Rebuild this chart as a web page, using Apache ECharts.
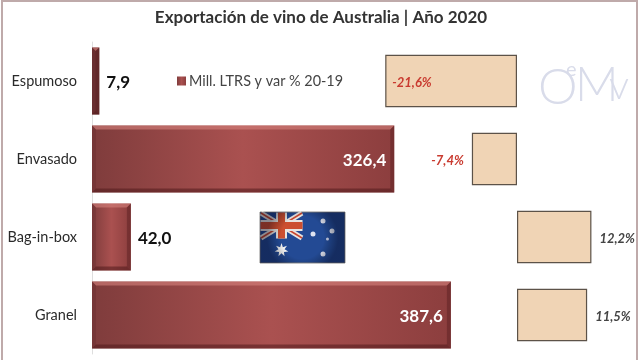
<!DOCTYPE html>
<html>
<head>
<meta charset="utf-8">
<style>
html, body { margin: 0; padding: 0; background: #fff; }
#chart { width: 640px; height: 360px; }
</style>
<script src="https://cdn.jsdelivr.net/npm/echarts@6/dist/echarts.min.js"></script>
</head>
<body>
<div id="chart"></div>
<script>
const titleText = 'Exportación de vino de Australia | Año 2020';
const seriesName = 'Mill. LTRS y var % 20-19';
const categories = ['Espumoso', 'Envasado', 'Bag-in-box', 'Granel'];
const volumes = [7.9, 326.4, 42.0, 387.6];
const variations = [-21.6, -7.4, 12.2, 11.5];

const font = 'Lato, "Open Sans", sans-serif';
const comma = v => v.toFixed(1).replace('.', ',');

const chart = echarts.init(document.getElementById('chart'));

// puntos de la estrella de la bandera
function star(cx, cy, r, n) {
    const pts = [];
    for (let i = 0; i < n * 2; i++) {
        const a = -Math.PI / 2 + i * Math.PI / n;
        const rr = i % 2 ? r * 0.45 : r;
        pts.push([cx + rr * Math.cos(a), cy + rr * Math.sin(a)]);
    }
    return pts;
}

// biselado de las barras, encima de la barra normal
function renderBevel(params, api) {
    const start = api.coord([0, api.value(1)]);
    const end = api.coord([api.value(0), api.value(1)]);
    const h = api.size([0, 1])[1] * 0.86;
    const x0 = start[0], x1 = end[0];
    const y0 = start[1] - h / 2, y1 = start[1] + h / 2;
    const b = Math.min(4, (x1 - x0) / 2);
    const face = (points, fill) => ({ type: 'polygon', shape: { points }, style: { fill } });
    return {
        type: 'group',
        children: [
            face([[x0, y0], [x1, y0], [x1 - b, y0 + b], [x0 + b, y0 + b]], 'rgba(214,130,125,0.6)'),
            face([[x0, y1], [x1, y1], [x1 - b, y1 - b], [x0 + b, y1 - b]], 'rgba(80,25,28,0.55)'),
            face([[x0, y0], [x0 + b, y0 + b], [x0 + b, y1 - b], [x0, y1]], 'rgba(90,35,38,0.25)'),
            face([[x1, y0], [x1 - b, y0 + b], [x1 - b, y1 - b], [x1, y1]], 'rgba(80,25,28,0.4)')
        ]
    };
}

const flag = [
    { type: 'rect', shape: { x: 260, y: 212, width: 85, height: 51 }, style: { fill: '#234a94', stroke: '#888', lineWidth: 1 } },
    { type: 'line', shape: { x1: 261, y1: 213, x2: 302, y2: 238 }, style: { stroke: '#e8e4e0', lineWidth: 5 } },
    { type: 'line', shape: { x1: 302, y1: 213, x2: 261, y2: 238 }, style: { stroke: '#e8e4e0', lineWidth: 5 } },
    { type: 'line', shape: { x1: 261, y1: 213, x2: 302, y2: 238 }, style: { stroke: '#c8472f', lineWidth: 1.5 } },
    { type: 'line', shape: { x1: 302, y1: 213, x2: 261, y2: 238 }, style: { stroke: '#c8472f', lineWidth: 1.5 } },
    { type: 'rect', shape: { x: 276, y: 212.5, width: 11, height: 26 }, style: { fill: '#e8e4e0' } },
    { type: 'rect', shape: { x: 260.5, y: 220, width: 42, height: 11 }, style: { fill: '#e8e4e0' } },
    { type: 'rect', shape: { x: 278, y: 212.5, width: 7, height: 26 }, style: { fill: '#cc4f30' } },
    { type: 'rect', shape: { x: 260.5, y: 222, width: 42, height: 7 }, style: { fill: '#cc4f30' } },
    { type: 'polygon', shape: { points: star(281.5, 250, 7, 7) }, style: { fill: '#f2f2f2' } },
    { type: 'circle', shape: { cx: 323, cy: 221, r: 2.5 }, style: { fill: '#dfe3f0' } },
    { type: 'circle', shape: { cx: 332, cy: 231, r: 2.5 }, style: { fill: '#dfe3f0' } },
    { type: 'circle', shape: { cx: 313, cy: 234, r: 2.5 }, style: { fill: '#dfe3f0' } },
    { type: 'circle', shape: { cx: 327.5, cy: 239, r: 1.5 }, style: { fill: '#c6cde4' } },
    { type: 'circle', shape: { cx: 323, cy: 254, r: 2.5 }, style: { fill: '#dfe3f0' } },
    {
        type: 'rect',
        shape: { x: 260, y: 212, width: 85, height: 51 },
        style: {
            fill: {
                type: 'radial', x: 0.5, y: 0.5, r: 0.7,
                colorStops: [
                    { offset: 0.6, color: 'rgba(0,0,0,0)' },
                    { offset: 1, color: 'rgba(0,0,20,0.4)' }
                ]
            }
        }
    }
];

const logoColor = '#d9dcea';
const logo = [
    { type: 'text', style: { x: 538, y: 63, text: 'O', fill: logoColor, font: '300 50px ' + font } },
    { type: 'text', style: { x: 566, y: 60, text: 'e', fill: logoColor, font: '400 20px ' + font } },
    { type: 'text', style: { x: 575, y: 62, text: 'M', fill: logoColor, font: '300 48px ' + font } },
    { type: 'text', style: { x: 609, y: 66, text: 'v', fill: logoColor, font: '300 40px ' + font } }
];

const option = {
    backgroundColor: '#fff',
    animation: false,
    title: {
        text: titleText,
        left: 316,
        top: 4,
        textAlign: 'center',
        textStyle: { fontFamily: font, fontSize: 17, fontWeight: 'bold', color: '#333' }
    },
    legend: {
        left: 172,
        top: 69,
        data: [{ name: seriesName, icon: 'rect' }],
        itemWidth: 9,
        itemHeight: 9,
        itemGap: 5,
        textStyle: { fontFamily: font, fontSize: 14.4, color: '#444', padding: [0, 0, 0, -2] }
    },
    grid: [
        { left: 92, top: 42, width: 370.4, height: 312 },
        { left: 364.5, top: 42, width: 244, height: 312 }
    ],
    xAxis: [
        { gridIndex: 0, type: 'value', min: 0, max: 400, show: false },
        { gridIndex: 1, type: 'value', min: -25, max: 15, show: false }
    ],
    yAxis: [
        {
            gridIndex: 0,
            type: 'category',
            inverse: true,
            data: categories,
            axisLine: { lineStyle: { color: '#dedede', width: 1 } },
            axisTick: { show: false },
            axisLabel: { margin: 15, fontFamily: font, fontSize: 14.5, color: '#2a2a2a' }
        },
        {
            gridIndex: 1,
            type: 'category',
            inverse: true,
            data: categories,
            show: false
        }
    ],
    series: [
        {
            name: seriesName,
            type: 'bar',
            xAxisIndex: 0,
            yAxisIndex: 0,
            barWidth: '86%',
            itemStyle: {
                color: {
                    type: 'linear', x: 0, y: 0, x2: 1, y2: 0,
                    colorStops: [
                        { offset: 0, color: '#7f3c3c' },
                        { offset: 0.5, color: '#aa5150' },
                        { offset: 1, color: '#8c3e3e' }
                    ]
                }
            },
            data: volumes.map(v => ({
                value: v,
                // la barra estrecha se ve mas oscura
                itemStyle: v < 10 ? { color: '#6e3233' } : undefined,
                label: v > 100
                    ? { position: 'insideRight', distance: 8, color: '#fff' }
                    : { position: 'right', distance: 7, color: '#111' }
            })),
            label: {
                show: true,
                fontFamily: font,
                fontSize: 17,
                fontWeight: 'bold',
                offset: [0, 2],
                formatter: p => comma(p.value)
            },
            z: 2
        },
        {
            type: 'custom',
            xAxisIndex: 0,
            yAxisIndex: 0,
            silent: true,
            renderItem: renderBevel,
            data: volumes.map((v, i) => [v, i]),
            encode: { x: 0, y: 1 },
            z: 3
        },
        {
            type: 'bar',
            xAxisIndex: 1,
            yAxisIndex: 1,
            barWidth: '67%',
            itemStyle: { color: '#f0d4b5', borderColor: '#5c5248', borderWidth: 1.2 },
            data: variations.map(v => ({
                value: v,
                label: v < -10
                    ? { position: 'insideLeft', distance: 7, color: '#c93b30' }
                    : v < 0
                        ? { position: 'left', distance: 8, color: '#c93b30' }
                        : { position: 'right', distance: 8, color: '#444' }
            })),
            label: {
                show: true,
                fontFamily: font,
                fontSize: 13,
                fontStyle: 'italic',
                fontWeight: 'bold',
                offset: [0, 2],
                formatter: p => comma(p.value) + '%'
            },
            z: 2
        }
    ],
    graphic: [
        { type: 'rect', silent: true, z: 0, shape: { x: 2, y: 1, width: 635, height: 365 }, style: { fill: 'none', stroke: '#bfaaaa', lineWidth: 2 } },
        { type: 'group', silent: true, z: 5, children: flag },
        { type: 'group', silent: true, z: 5, children: logo }
    ]
};

chart.setOption(option);
</script>
</body>
</html>
